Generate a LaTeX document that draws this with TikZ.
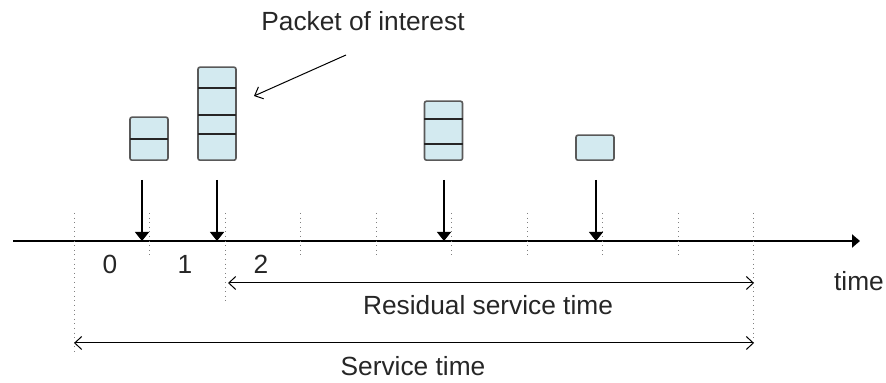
\documentclass[tikz,border=0pt]{standalone}
\usepackage{fontspec}
\setmainfont{Liberation Sans}
\usetikzlibrary{arrows.meta}
\definecolor{pktblue}{HTML}{D3EAF0}

\begin{document}
\begin{tikzpicture}[
		x = 0.5pt, y = -0.5pt,
		every node/.style={font=\fontsize{13.15}{15}\selectfont, text=black!85, inner sep=0pt},
		packet/.style={draw=black!65, fill=pktblue, line width=0.8pt, rounded corners=1pt, minimum width=19pt, anchor=south},
		divider/.style={black!85, line width=0.7pt},
		axis/.style={line width=1pt, -{Triangle[length=4pt, width=6.5pt]}},
		arrival/.style={line width=0.65pt, -{Triangle[length=4.5pt, width=7pt]}},
		span/.style={line width=0.5pt, {Straight Barb[length=3.5pt, width=6.5pt]}-{Straight Barb[length=3.5pt, width=6.5pt]}},
		slot/.style={black!50, line width=0.5pt, dash pattern=on 0.5pt off 1.8pt},
		]
	\useasboundingbox (0,0) rectangle (886,383);

	\draw[axis] (13,241) coordinate (t0) -- (860,241) coordinate (tend);
	\foreach \i/\low in {0/353, 1/258, 2/303, 3/258, 4/258, 5/258, 6/258, 7/258, 8/258, 9/343}
		\draw[slot] (74+75.5*\i,213) coordinate (s\i) -- (74+75.5*\i,\low) coordinate (e\i);

	\node (P1) [packet, minimum height=21.5pt] at (149,161) {};
	\draw[divider] (130,139) -- (168,139);
	\node (P2) [packet, minimum height=46.5pt] at (217,161) {};
	\draw[divider] (198,88) -- (236,88);
	\draw[divider] (198,115) -- (236,115);
	\draw[divider] (198,134) -- (236,134);
	\node (P3) [packet, minimum height=29.5pt] at (443.5,161) {};
	\draw[divider] (424,119) -- (463,119);
	\draw[divider] (424,144) -- (463,144);
	\node (P4) [packet, minimum height=12.5pt] at (595,161) {};

	\foreach \n/\x in {1/142, 2/217, 3/444, 4/596}
		\draw[arrival] (\x,180) coordinate (a\n) -- (\x,241) coordinate (h\n);

	\node (poi) [anchor=base] at (363,31) {Packet of interest};
	\coordinate (poiS) at (346,55);
	\coordinate (poiE) at (254,96);
	\draw[line width=0.5pt, -{Straight Barb[length=3.5pt, width=6.5pt]}] (poiS) -- (poiE);

	\node (n0) [anchor=base] at (110,274) {0};
	\node (n1) [anchor=base] at (185,274) {1};
	\node (n2) [anchor=base] at (261,274) {2};
	\node (tlabel) [anchor=base] at (859,291) {time};

	\coordinate (rA) at (228,283);
	\coordinate (rB) at (754,283);
	\draw[span] (rA) -- (rB);
	\node (rst) [anchor=base] at (488,315) {Residual service time};

	\coordinate (sA) at (74,343);
	\coordinate (sB) at (754,343);
	\draw[span] (sA) -- (sB);
	\node (st) [anchor=base] at (413,376) {Service time};
\end{tikzpicture}
\end{document}
